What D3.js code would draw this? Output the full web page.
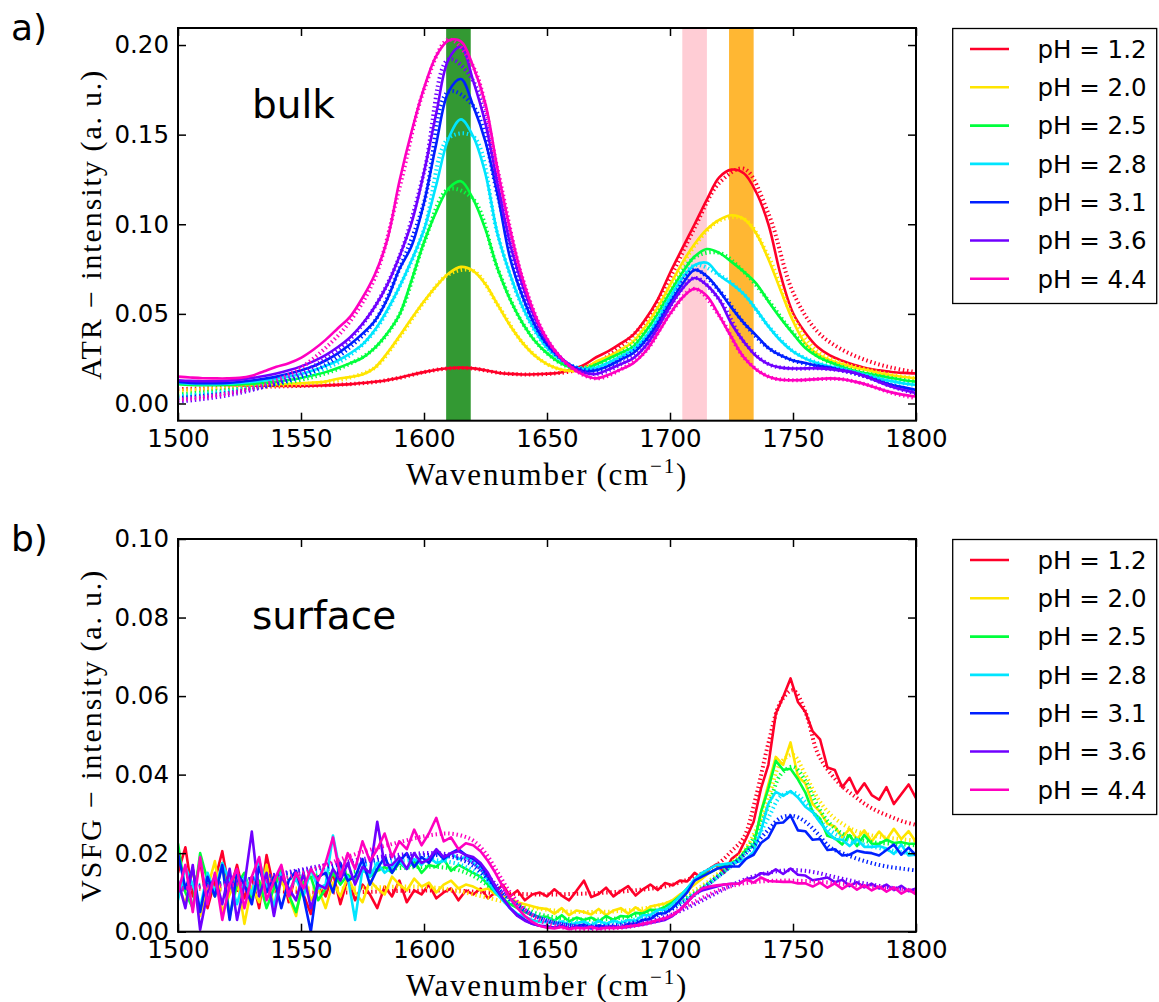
<!DOCTYPE html>
<html>
<head>
<meta charset="utf-8">
<script src="https://cdnjs.cloudflare.com/ajax/libs/d3/7.8.5/d3.min.js"></script>
<style>
    body { margin: 0; background: #ffffff; }
    svg text { font-family: "DejaVu Sans", sans-serif; fill: #000; }
    .math { font-family: "Liberation Serif", serif; }
</style>
</head>
<body>
<div id="chart"></div>
<script>
// values are stored in units of 1e-4 a.u.
var unit = 1e-4;

var phLabels = ["pH = 1.2", "pH = 2.0", "pH = 2.5", "pH = 2.8", "pH = 3.1", "pH = 3.6", "pH = 4.4"];
var phColors = ["#ff0029", "#ffe500", "#00ff3c", "#00e5ff", "#0020ff", "#7000ff", "#ff00c0"];

var xTicks = [1500, 1550, 1600, 1650, 1700, 1750, 1800];
var atrTicks = [0.00, 0.05, 0.10, 0.15, 0.20];
var vsfgTicks = [0.00, 0.02, 0.04, 0.06, 0.08, 0.10];

// marker bands in the ATR panel (cm-1)
var bandStart = [1609, 1705, 1724];
var bandEnd = [1619, 1715, 1734];
var bandColors = ["#339933", "#ffcdd5", "#ffb733"];

// ---- ATR (bulk), measured, 1500..1800 step 5 ----
var atrWn = d3.range(1500, 1801, 5);
var atrPh12 = [120,115,110,107,104,102,100,99,98,98, 98,99,101,104,108,114,121,130,144,160, 175,188,197,200,196,185,172,165,162,163, 166,172,190,215,258,292,335,383,470,580, 728,865,1000,1138,1262,1305,1285,1180,1000,716, 505,395,315,268,238,215,196,185,176,171, 168];
var atrPh20 = [112,110,108,107,106,106,106,107,108,110, 113,117,122,138,148,162,200,280,375,475, 570,655,725,762,740,665,550,435,340,268, 220,193,182,190,235,262,300,345,430,535, 660,785,890,972,1025,1050,1030,950,805,630, 460,335,275,242,220,200,187,170,158,148, 141];
var atrPh25 = [108,104,102,102,103,106,110,115,122,131, 142,157,175,198,225,255,310,390,495,690, 900,1070,1200,1240,1140,970,750,580,450,350, 280,230,200,192,218,250,282,317,400,500, 620,730,820,862,840,790,735,670,570,475, 390,310,262,230,205,183,168,154,142,130, 122];
var atrPh28 = [115,110,108,108,110,114,120,128,138,150, 165,185,210,240,280,330,410,520,650,800, 970,1220,1480,1585,1490,1280,940,720,540,410, 310,250,210,192,200,228,262,299,370,470, 590,700,772,785,715,668,610,525,430,350, 290,250,225,207,193,175,159,140,125,112, 104];
var atrPh31 = [120,115,113,113,115,120,128,138,150,166, 185,208,240,280,330,390,460,580,750,880, 1120,1450,1740,1810,1660,1460,1160,810,600,440, 330,260,210,180,185,210,245,280,350,445, 560,665,745,710,630,535,450,380,310,268, 240,226,210,200,185,170,150,125,105,90, 76];
var atrPh36 = [130,126,124,124,127,133,142,153,167,185, 207,235,270,315,370,445,540,660,820,1010, 1290,1620,1920,1990,1800,1560,1220,890,660,480, 350,265,205,172,165,190,220,252,320,420, 540,640,700,660,580,445,345,265,220,200, 195,196,196,192,183,172,148,120,95,75, 58];
var atrPh44 = [150,145,141,140,140,143,155,180,205,225, 255,300,355,420,485,590,720,910,1240,1520, 1760,1940,2025,2020,1880,1670,1300,970,700,500, 360,265,200,158,140,160,190,224,290,390, 500,590,640,600,490,370,258,190,150,132, 130,132,136,140,135,122,105,82,62,48, 39];

// ---- ATR fits, 1500..1800 step 10 ----
var atrFitWn = d3.range(1500, 1801, 10);
var atrFit12 = [80,84,88,92,95,98,102,108,120,143, 175,196,195,172,162,165,180,225,320,460, 700,980,1230,1310,1060,620,400,300,240,200, 175];
var atrFit20 = [70,78,85,92,100,108,120,145,200,370, 565,720,740,550,340,220,182,225,295,425, 655,880,1020,1030,820,480,290,225,190,160, 140];
var atrFit25 = [50,62,75,90,108,132,168,222,310,495, 895,1195,1140,750,450,280,200,215,280,400, 618,815,840,735,575,395,265,205,168,142, 120];
var atrFit28 = [40,52,68,88,112,145,195,270,405,650, 970,1480,1490,940,540,310,210,200,260,370, 590,770,718,610,432,292,226,193,158,125, 102];
var atrFit31 = [30,42,58,80,110,150,215,315,460,750, 1120,1740,1660,1160,600,330,210,185,245,350, 560,745,630,450,310,240,210,185,148,102, 72];
var atrFit36 = [10,25,45,75,115,170,250,360,540,820, 1290,1920,1800,1220,660,350,205,165,220,320, 540,700,580,345,220,195,196,183,148,95, 55];
var atrFit44 = [20,35,55,85,130,200,310,460,700,1200, 1750,2030,1880,1300,700,360,200,140,190,290, 500,640,490,258,150,130,136,135,105,60, 30];

// ---- VSFG (surface), measured, 1500..1800 step 3 ----
var sfgWn = d3.range(1500, 1801, 3);
var sfgPh12 = [150,215,90,180,60,130,205,100,170,85,140,60,195,110,165,75,150,95,45,120, 90,150,70,135,80,120,95,60,115,90,130,75,105,95,120,85,100,110,80,105, 95,110,85,100,120,90,105,80,95,100, 90,108,92,80,104,130,88,96,112,90,104,116,92,108,120,106, 124,118,130,128,150,136,160,172,150,185, 200,238,280,365,425,555,598,645,585,560,510,490,418,412,368,392,352,378,348,336,368,325,350,375,340];
var sfgPh20 = [120,70,160,40,110,180,50,95,140,20,115,75,170,60,130,90,40,150,80,110, 60,125,90,140,100,75,130,110,95,140,120,105,135,115,125,100,120,130,110,120, 115,105,110,95,90,85,75,70,65,60, 58,46,60,42,54,50,44,58,42,54,60,46,62,50,64,68, 72,80,95,105,120,135,150,160,170,175, 180,210,218,305,375,445,425,482,395,378,325,305,275,268,240,262,236,258,230,255,234,262,236,256,228];
var sfgPh25 = [225,100,60,200,130,90,175,40,120,150,85,130,60,110,160,95,50,125,140,80, 110,150,120,145,130,160,140,155,165,150,175,160,180,150,170,165,185,155,170,160, 150,140,120,100,85,70,60,50,42,38, 38,28,42,26,36,30,36,26,40,30,40,38,48,46,56,55, 64,75,90,110,130,145,150,160,170,175, 185,210,220,305,365,435,412,415,388,355,305,288,244,238,222,246,218,246,224,224,234,226,228,224,224];
var sfgPh28 = [80,165,120,60,150,100,175,130,70,140,95,180,120,65,150,105,135,90,160,110, 120,245,150,140,30,160,140,175,150,165,180,160,185,170,190,175,180,200,185,190, 175,160,130,100,80,60,45,38,30,25, 24,20,26,18,22,26,16,28,20,28,22,30,28,42,42,56, 56,70,90,110,135,150,160,170,172,175, 178,186,204,258,326,356,346,358,342,318,304,278,254,236,234,218,236,216,216,218,212,198,222,194,196];
var sfgPh31 = [200,110,160,50,140,90,170,30,150,120,70,165,100,140,60,130,155,90,0,140, 150,100,175,130,140,185,120,160,190,150,180,200,165,190,175,205,185,200,210,195, 185,170,140,110,85,60,42,30,20,15, 14,10,16,8,14,18,8,16,12,14,10,20,20,30,32,46, 47,60,80,100,130,140,150,160,165,166, 166,186,196,226,240,276,278,296,258,256,234,236,208,210,194,196,206,202,200,194,208,222,196,214,194];
var sfgPh36 = [130,60,170,5,100,140,70,160,30,120,255,90,150,40,140,110,80,150,60,120, 110,160,130,175,120,165,150,280,170,170,190,160,200,175,185,210,190,200,205,195, 190,175,150,115,85,60,40,28,20,15, 12,10,14,9,12,10,13,9,11,14,10,12,15,18,22,26, 30,40,55,75,95,105,110,115,120,122, 122,134,137,149,146,159,147,161,145,143,131,134,138,126,132,116,126,113,122,110,120,106,117,103,110];
var sfgPh44 = [100,170,50,190,70,150,30,120,160,60,140,190,80,130,170,90,150,110,160,130, 175,240,140,200,160,230,180,210,250,190,230,210,260,220,250,290,230,240,210,225, 220,205,180,150,115,85,60,40,25,15, 10,8,12,6,10,8,12,7,10,9,11,14,16,20,24,30, 34,42,55,75,95,110,115,118,120,122, 122,133,125,138,129,128,127,127,123,123,115,125,112,123,109,121,107,118,105,115,102,113,97,107,95];

// ---- VSFG fits, 1500..1800 step 5 ----
var sfgFitWn = d3.range(1500, 1801, 5);
var sfgFit12 = [110,110,109,108,107,106,105,104,103,102,101,100,100, 100,100,101,102,103,104,104,105,105,105,104,102, 100,98,97,96,95,95,95,96,97,98,100,102,105,108,112,118, 128,140,155,175,205,240,345,480,585,615,560,455,405,370,345,322,305,292,280,272];
var sfgFit20 = [110,110,110,110,110,110,110,110,110,110,110,110,110, 110,111,112,113,114,115,115,114,112,108,102,95, 88,80,72,65,60,56,53,51,50,50,51,53,56,60,66,75, 88,105,125,150,175,205,260,340,430,450,400,340,300,275,258,248,242,238,235,232];
var sfgFit25 = [115,116,118,120,122,125,128,131,134,137,140,143,146, 149,152,155,158,160,162,164,165,165,162,155,142, 122,100,80,62,48,40,35,32,31,31,32,35,40,47,55,65, 80,98,120,145,170,200,250,320,400,420,385,320,275,250,238,230,226,224,222,220];
var sfgFit28 = [115,117,120,123,126,130,134,138,142,146,150,154,158, 162,166,170,174,177,180,182,183,182,178,170,155, 132,105,80,58,42,32,26,23,21,21,22,25,30,38,48,60, 77,96,118,142,168,195,235,290,345,355,330,290,258,240,228,220,213,207,202,198];
var sfgFit31 = [110,113,117,121,125,130,135,140,145,150,155,160,165, 170,174,178,182,186,190,193,195,195,192,184,168, 140,110,82,58,40,28,20,16,14,14,15,18,23,31,42,55, 73,94,118,143,168,195,225,260,290,295,280,250,215,200,188,178,170,164,160,156];
var sfgFit36 = [105,110,115,120,125,130,135,140,146,152,158,164,170, 175,180,185,189,193,196,198,200,200,197,190,175, 148,115,85,60,40,28,20,15,12,11,12,14,18,24,32,42, 55,70,86,102,118,132,143,150,155,157,155,150,142,135,128,122,117,112,108,104];
var sfgFit44 = [110,112,114,116,118,121,124,128,133,140,148,158,170, 182,193,203,212,220,228,236,243,248,250,245,232, 200,150,100,62,36,20,12,8,7,7,8,10,14,20,28,40, 60,76,92,106,116,123,127,129,130,130,129,127,125,122,119,116,113,110,107,104];

var atrMeas = [atrPh12, atrPh20, atrPh25, atrPh28, atrPh31, atrPh36, atrPh44];
var atrFits = [atrFit12, atrFit20, atrFit25, atrFit28, atrFit31, atrFit36, atrFit44];
var sfgMeas = [sfgPh12, sfgPh20, sfgPh25, sfgPh28, sfgPh31, sfgPh36, sfgPh44];
var sfgFits = [sfgFit12, sfgFit20, sfgFit25, sfgFit28, sfgFit31, sfgFit36, sfgFit44];

var svg = d3.select("#chart")
    .append("svg")
    .attr("width", 1159)
    .attr("height", 1002);

var left = 178, right = 916;
var x = d3.scaleLinear().domain([1500, 1800]).range([left, right]);

function drawPanel(p) {
    var y = d3.scaleLinear().domain(p.yDomain).range([p.bottom, p.top]);

    svg.append("clipPath")
        .attr("id", "clip-" + p.name)
        .append("rect")
        .attr("x", left)
        .attr("y", p.top)
        .attr("width", right - left)
        .attr("height", p.bottom - p.top);

    var plot = svg.append("g").attr("clip-path", "url(#clip-" + p.name + ")");

    if (p.bands) {
        bandStart.forEach(function (b, i) {
            plot.append("rect")
                .attr("x", x(b))
                .attr("y", p.top)
                .attr("width", x(bandEnd[i]) - x(b))
                .attr("height", p.bottom - p.top)
                .attr("fill", bandColors[i]);
        });
    }

    var line = d3.line()
        .x(function (d) { return x(d[0]); })
        .y(function (d) { return y(d[1] * unit); });

    p.meas.forEach(function (vals, i) {
        var meas = vals.map(function (v, j) { return [p.measWn[j], v]; });
        var fit = p.fits[i].map(function (v, j) { return [p.fitWn[j], v]; });

        plot.append("path")
            .datum(meas)
            .attr("d", line.curve(p.measCurve))
            .attr("fill", "none")
            .attr("stroke", phColors[i])
            .attr("stroke-width", 2.6)
            .attr("stroke-linejoin", "round");

        plot.append("path")
            .datum(fit)
            .attr("d", line.curve(d3.curveCatmullRom))
            .attr("fill", "none")
            .attr("stroke", phColors[i])
            .attr("stroke-width", 4)
            .attr("stroke-dasharray", "1.4,2.8");
    });

    // ticks pointing inward on all four sides
    var xAxis = svg.append("g")
        .attr("transform", "translate(0," + p.bottom + ")")
        .call(d3.axisBottom(x).tickValues(xTicks).tickSize(-8).tickPadding(9).tickFormat(d3.format("d")));
    var yAxis = svg.append("g")
        .attr("transform", "translate(" + left + ",0)")
        .call(d3.axisLeft(y).tickValues(p.yTicks).tickSize(-8).tickPadding(9).tickFormat(d3.format(".2f")));
    var xTop = svg.append("g")
        .attr("transform", "translate(0," + p.top + ")")
        .call(d3.axisTop(x).tickValues(xTicks).tickSize(-8).tickFormat(""));
    var yRight = svg.append("g")
        .attr("transform", "translate(" + right + ",0)")
        .call(d3.axisRight(y).tickValues(p.yTicks).tickSize(-8).tickFormat(""));

    [xAxis, yAxis, xTop, yRight].forEach(function (a) {
        a.select(".domain").remove();
        a.selectAll(".tick line").attr("stroke", "#000").attr("stroke-width", 1.5);
        a.selectAll("text")
            .style("font-size", "24.5px")
            .style("font-family", "DejaVu Sans");
    });

    svg.append("rect")
        .attr("x", left)
        .attr("y", p.top)
        .attr("width", right - left)
        .attr("height", p.bottom - p.top)
        .attr("fill", "none")
        .attr("stroke", "#000")
        .attr("stroke-width", 2);

    // panel letter and inset label
    svg.append("text")
        .attr("x", 11)
        .attr("y", p.top + 12)
        .style("font-size", "36px")
        .text(p.letter);

    svg.append("text")
        .attr("x", 252)
        .attr("y", p.top + 90)
        .style("font-size", "39px")
        .text(p.inset);

    // axis titles in a math-like serif
    var xl = svg.append("text")
        .attr("class", "math")
        .attr("x", (left + right) / 2)
        .attr("y", p.bottom + 64)
        .attr("text-anchor", "middle")
        .style("font-size", "31px")
        .style("letter-spacing", "1.8px");
    xl.append("tspan").text("Wavenumber\u2009(cm");
    xl.append("tspan").attr("dy", -12).style("font-size", "21px").text("\u22121");
    xl.append("tspan").attr("dy", 12).text(")");

    svg.append("text")
        .attr("class", "math")
        .attr("transform", "translate(101," + ((p.top + p.bottom) / 2) + ") rotate(-90)")
        .attr("text-anchor", "middle")
        .style("font-size", "30px")
        .style("letter-spacing", "1.9px")
        .text(p.yTitle);

    // legend
    var lg = svg.append("g");
    lg.append("rect")
        .attr("x", 952.7)
        .attr("y", p.top + 0.5)
        .attr("width", 204)
        .attr("height", 275)
        .attr("fill", "#fff")
        .attr("stroke", "#000")
        .attr("stroke-width", 1.3);
    phLabels.forEach(function (lab, i) {
        var ry = p.top + 21 + i * 38.3;
        lg.append("line")
            .attr("x1", 970)
            .attr("x2", 1009)
            .attr("y1", ry)
            .attr("y2", ry)
            .attr("stroke", phColors[i])
            .attr("stroke-width", 2.6);
        lg.append("text")
            .attr("x", 1037.5)
            .attr("y", ry)
            .attr("dy", "0.36em")
            .style("font-size", "24.5px")
            .text(lab);
    });
}

drawPanel({
    name: "atr",
    letter: "a)",
    inset: "bulk",
    top: 28,
    bottom: 420.7,
    yDomain: [-0.0096, 0.2095],
    yTicks: atrTicks,
    yTitle: "ATR \u2212 intensity\u2009(a.\u2009u.)",
    bands: true,
    measWn: atrWn,
    meas: atrMeas,
    measCurve: d3.curveCatmullRom,
    fitWn: atrFitWn,
    fits: atrFits
});

drawPanel({
    name: "sfg",
    letter: "b)",
    inset: "surface",
    top: 539,
    bottom: 931.7,
    yDomain: [0, 0.10],
    yTicks: vsfgTicks,
    yTitle: "VSFG \u2212 intensity\u2009(a.\u2009u.)",
    bands: false,
    measWn: sfgWn,
    meas: sfgMeas,
    measCurve: d3.curveLinear,
    fitWn: sfgFitWn,
    fits: sfgFits
});
</script>
</body>
</html>
